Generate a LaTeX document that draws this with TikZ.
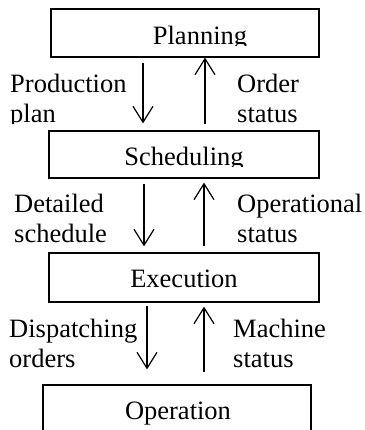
\documentclass[tikz,border=0pt]{standalone}
\usepackage{fontspec}
\setmainfont{Liberation Serif}
\usetikzlibrary{arrows.meta}
\begin{document}
\begin{tikzpicture}[x=1pt,y=-1pt,
    box/.style={draw,line width=1.2pt,inner sep=0pt,minimum width=268pt,minimum height=48pt},
    txt/.style={anchor=base,inner sep=0pt,font=\fontsize{26.5}{30}\selectfont},
    lbl/.style={anchor=base west,inner sep=0pt,font=\fontsize{26.5}{30}\selectfont},
    flow/.style={line width=1.2pt,-{Straight Barb[length=16pt,width=20pt,line width=1.2pt]}}]
                \useasboundingbox (0,0) rectangle (364,430);
                \node [box] (plan) at (185,33) {};
                \node [box,minimum width=270pt,minimum height=47pt] (sched) at (184,154.5) {};
                \node [box,minimum width=270pt,minimum height=49pt] (exec) at (184,277.5) {};
                \node [box] (oper) at (177,409) {};
                % descenders cut off as in the original
                \begin{scope}
                \clip (0,0) rectangle (364,46);
                \node [txt] (planT) at (200,45) {Planning};
                \end{scope}
                \begin{scope}
                \clip (0,131) rectangle (364,167);
                \node [txt] (schedT) at (184,166) {Scheduling};
                \end{scope}
                \node [txt] (execT) at (184,287) {Execution};
                \node [txt] (operT) at (178,419) {Operation};
                \node [lbl] (prod1) at (10,93) {Production};
                \begin{scope}
                \clip (0,100) rectangle (140,124);
                \node [lbl] (prod2) at (10,123) {plan};
                \end{scope}
                \node [lbl] (ord1) at (237,93) {Order};
                \node [lbl] (ord2) at (237,123) {status};
                \node [lbl] (det1) at (14,212) {Detailed};
                \node [lbl] (det2) at (14,242) {schedule};
                \node [lbl] (opst1) at (237,212) {Operational};
                \node [lbl] (opst2) at (237,242) {status};
                \node [lbl] (disp1) at (9,337) {Dispatching};
                \node [lbl] (disp2) at (9,367) {orders};
                \node [lbl] (mach1) at (233,337) {Machine};
                \node [lbl] (mach2) at (233,367) {status};
                \draw [flow,shorten <=5pt,shorten >=7pt] (plan.south -| 143,0) -- (sched.north -| 143,0);
                \draw [flow,shorten <=6pt] (sched.north -| 205,0) -- (plan.south -| 205,0);
                \draw [flow,shorten <=5pt,shorten >=6pt] (sched.south -| 144,0) -- (exec.north -| 144,0);
                \draw [flow,shorten <=6pt,shorten >=4pt] (exec.north -| 204,0) -- (sched.south -| 204,0);
                \draw [flow,shorten <=3pt,shorten >=15pt] (exec.south -| 147,0) -- (oper.north -| 147,0);
                \draw [flow,shorten <=12pt,shorten >=4pt] (oper.north -| 204,0) -- (exec.south -| 204,0);
            \end{tikzpicture}
\end{document}
